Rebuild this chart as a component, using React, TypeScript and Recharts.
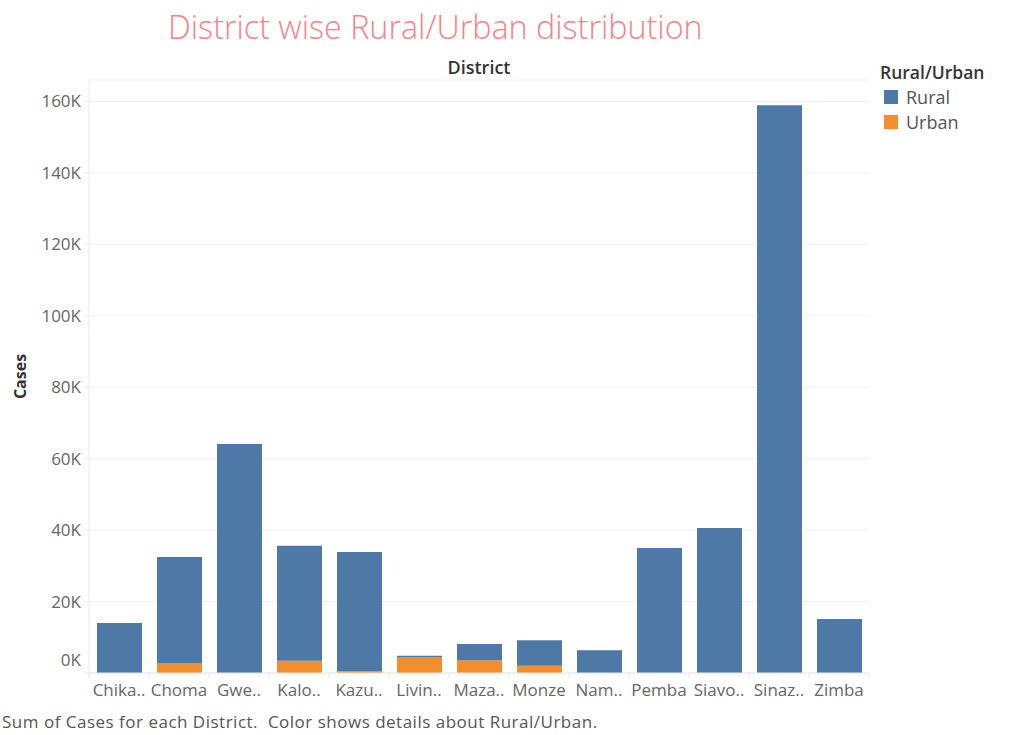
import React from 'react';
import { BarChart, Bar, XAxis, YAxis, CartesianGrid } from 'recharts';

// values (cases)
const districts = ['Chika..', 'Choma', 'Gwe..', 'Kalo..', 'Kazu..', 'Livin..', 'Maza..', 'Monze', 'Nam..', 'Pemba', 'Siavo..', 'Sinaz..', 'Zimba'];
const rural = [14000, 29700, 64100, 32200, 33400, 300, 4500, 7200, 6400, 35000, 40600, 158900, 15100];
const urban = [0, 2800, 0, 3400, 500, 4500, 3600, 2000, 0, 0, 0, 0, 0];
const yTicks = [0, 20000, 40000, 60000, 80000, 100000, 120000, 140000, 160000];
const legendOrder = ['Rural', 'Urban'];

const colors: Record<string, string> = { Rural: '#4e79a7', Urban: '#f28e2b' };

const data = districts.map((d, i) => ({ district: d, Rural: rural[i], Urban: urban[i] }));

const FONT = '"Open Sans", sans-serif';

const XTick = ({ x, y, payload, index }: any) => {
  const off = payload.offset || 0;
  const axisY = y - 11;
  return (
    <g>
      <line x1={x - off} x2={x - off} y1={axisY} y2={axisY + 5} stroke="#e6e6e6" />
      {index === districts.length - 1 && (
        <line x1={x + off} x2={x + off} y1={axisY} y2={axisY + 5} stroke="#e6e6e6" />
      )}
      <text x={x} y={y} dy="0.71em" textAnchor="middle" fill="#666" fontSize={17} fontFamily={FONT}>
        {payload.value}
      </text>
    </g>
  );
};

const YTick = ({ x, y, payload }: any) => {
  // Tableau lifts the bottom label above the baseline
  const shift = payload.value === 0 ? -13 : 0;
  return (
    <text x={x} y={y + shift} dy="0.355em" textAnchor="end" fill="#666" fontSize={17} fontFamily={FONT}>
      {payload.value / 1000}K
    </text>
  );
};

const LegendBox = () => (
  <div style={{ position: 'absolute', left: 880, top: 62, fontFamily: FONT }}>
    <div style={{ fontSize: 17.5, lineHeight: '20px', fontWeight: 600, color: '#333' }}>Rural/Urban</div>
    <div style={{ height: 2 }} />
    {legendOrder.map((name) => (
      <div key={name} style={{ display: 'flex', alignItems: 'center', height: 25 }}>
        <span style={{ width: 14, height: 14, background: colors[name], marginLeft: 4, marginRight: 8 }} />
        <span style={{ fontSize: 18, color: '#555' }}>{name}</span>
      </div>
    ))}
  </div>
);

export default function App() {
  return (
    <div style={{ position: 'absolute', left: 0, top: 0, width: 1019, height: 735, background: '#fff' }}>
      <BarChart
        width={1019}
        height={735}
        data={data}
        margin={{ top: 80, right: 150, bottom: 0, left: 0 }}
        barSize={45}
      >
        <CartesianGrid vertical={false} stroke="#f0f0f0" />
        <XAxis
          dataKey="district"
          height={62}
          tickSize={4}
          tickMargin={7}
          tickLine={false}
          interval={0}
          axisLine={{ stroke: '#eaeaea' }}
          tick={<XTick />}
        />
        <YAxis
          width={89}
          domain={[0, 166000]}
          ticks={yTicks}
          tickSize={5}
          tickMargin={3}
          tickLine={{ stroke: '#eaeaea' }}
          axisLine={{ stroke: '#eaeaea' }}
          tick={<YTick />}
          label={{
            content: ({ viewBox }: any) => (
              <text
                x={viewBox.x + 20}
                y={viewBox.y + viewBox.height / 2}
                transform={`rotate(-90 ${viewBox.x + 20} ${viewBox.y + viewBox.height / 2})`}
                textAnchor="middle"
                dominantBaseline="central"
                fontSize={16}
                fontWeight={700}
                fill="#333"
                fontFamily={FONT}
              >
                Cases
              </text>
            ),
          }}
        />
        <Bar dataKey="Urban" stackId="a" fill={colors.Urban} isAnimationActive={false} />
        <Bar dataKey="Rural" stackId="a" fill={colors.Rural} isAnimationActive={false} />
      </BarChart>
      <LegendBox />
      <svg
        width={1019}
        height={735}
        style={{ position: 'absolute', left: 0, top: 0, pointerEvents: 'none' }}
      >
        <text x={168} y={39} fontSize={32.3} fontWeight={300} fill="#f3848a" fontFamily={FONT}>
          District wise Rural/Urban distribution
        </text>
        <text x={479} y={74} textAnchor="middle" fontSize={18} fontWeight={600} fill="#333" fontFamily={FONT}>
          District
        </text>
        <text x={2} y={728} fontSize={17} letterSpacing={0.5} fill="#555" fontFamily={FONT} style={{ whiteSpace: 'pre' }}>
          {'Sum of Cases for each District.  Color shows details about Rural/Urban.'}
        </text>
      </svg>
    </div>
  );
}
